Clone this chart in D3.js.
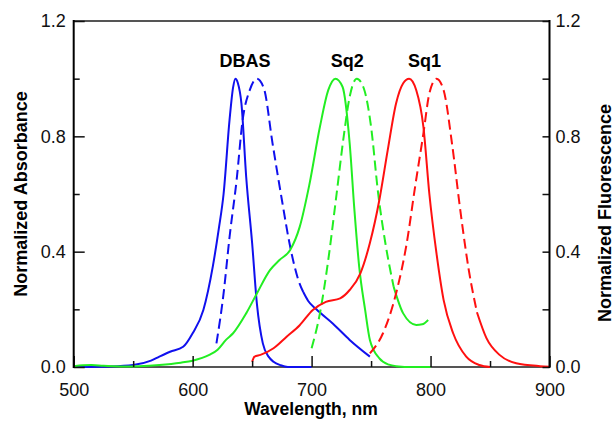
<!DOCTYPE html>
<html lang="en">
<head>
<meta charset="utf-8">
<title>Spectra</title>
<script src="https://d3js.org/d3.v7.min.js"></script>
<style>
  body { margin: 0; background: #fff; }
  text { font-family: "Liberation Sans", Arial, sans-serif; }
</style>
</head>
<body>
<script>
// wavelength (nm), normalized value
var dbasAbs = [[500,0],[530,0.002],[550,0.007],[565,0.022],[572,0.036],[581,0.053],[592,0.07],[600,0.117],[609,0.198],[617,0.35],
  [622,0.48],[626,0.6],[631,0.856],[634,0.97],[636,1.0],[638,0.985],[641,0.914],[645,0.66],[650,0.43],[654,0.22],[659,0.082],[664,0.035],[668,0.018],[674,0.006],[680,0.0],[700,0]];
var dbasFl = [[620,0.082],[626,0.255],[631,0.45],[637,0.65],[642,0.856],[648,0.96],[654,1.0],[660,0.965],[667,0.78],[675,0.58],
  [682,0.417],[689,0.30],[693,0.26],[697,0.23],[704,0.20],[718,0.15],[732,0.094],[749,0.036]];
var sq2Abs = [[500,0.003],[508,0.006],[515,0.007],[525,0.004],[540,0.002],[555,0.003],[572,0.007],[590,0.015],[600,0.022],[614,0.042],[621,0.06],
  [628,0.094],[634,0.117],[645,0.186],[654,0.255],[665,0.336],[673,0.371],[682,0.406],[690,0.486],[698,0.63],[707,0.833],[714,0.96],
  [720,1.0],[726,0.972],[732,0.776],[736,0.544],[740,0.348],[745,0.198],[749,0.094],[757,0.03],[765,0.008],[771,0.003],[785,0],[800,0]];
var sq2Fl = [[700,0.065],[707,0.186],[714,0.371],[721,0.6],[727,0.8],[732,0.937],[738,1.0],[744,0.965],[750,0.833],[756,0.6],
  [762,0.43],[769,0.278],[777,0.186],[788,0.146],[793,0.148],[798,0.163]];
var sq1Abs = [[650,0.018],[652,0.036],[657,0.042],[668,0.065],[679,0.105],[690,0.145],[701,0.198],[712,0.226],[724,0.238],[732,0.267],
  [741,0.325],[749,0.43],[757,0.58],[764,0.752],[771,0.914],[777,0.984],[782,1.0],[788,0.96],[794,0.833],[799,0.6],[805,0.394],
  [811,0.232],[819,0.117],[830,0.036],[841,0.007],[850,0]];
var sq1Fl = [[749,0.047],[760,0.117],[771,0.255],[780,0.43],[787,0.625],[794,0.81],[799,0.949],[805,1.0],[811,0.96],[818,0.776],
  [825,0.544],[832,0.34],[839,0.19],[847,0.10],[858,0.042],[872,0.013],[892,0.003],[900,0.001]];

// fluorescence curves are dashed up to dashTo, solid after it
var series = [
  {data: dbasAbs, color: "#1010ee", dashTo: null},
  {data: dbasFl, color: "#1010ee", dashTo: 693},
  {data: sq2Abs, color: "#22ee22", dashTo: null},
  {data: sq2Fl, color: "#22ee22", dashTo: 769},
  {data: sq1Abs, color: "#ff1010", dashTo: null},
  {data: sq1Fl, color: "#ff1010", dashTo: 839}
];
var labels = [{text: "DBAS", x: 644, y: 1.04}, {text: "Sq2", x: 730, y: 1.04}, {text: "Sq1", x: 795, y: 1.04}];
var xTicks = [500, 600, 700, 800, 900];
var yTicks = [0, 0.4, 0.8, 1.2];

var w = 615, h = 421;
var svg = d3.select("body").append("svg").attr("width", w).attr("height", h);

var x = d3.scaleLinear().domain([500, 900]).range([73.7, 549.5]);
var y = d3.scaleLinear().domain([0, 1.2]).range([367, 21]);

var line = d3.line()
  .x(function(d){ return x(d[0]); })
  .y(function(d){ return y(d[1]); })
  .curve(d3.curveMonotoneX);

// frame top/bottom, gray
svg.append("line").attr("x1", x(500)).attr("x2", x(900)).attr("y1", y(1.2)).attr("y2", y(1.2))
  .attr("stroke", "#555").attr("stroke-width", 2);
svg.append("line").attr("x1", x(500)).attr("x2", x(900)).attr("y1", y(0)).attr("y2", y(0))
  .attr("stroke", "#555").attr("stroke-width", 2);

series.forEach(function(s){
  if (s.dashTo == null) {
    svg.append("path").attr("d", line(s.data))
      .attr("fill", "none").attr("stroke", s.color).attr("stroke-width", 2);
  } else {
    var a = s.data.filter(function(d){ return d[0] <= s.dashTo; });
    var b = s.data.filter(function(d){ return d[0] >= s.dashTo; });
    svg.append("path").attr("d", line(a))
      .attr("fill", "none").attr("stroke", s.color).attr("stroke-width", 2)
      .attr("stroke-dasharray", "10,5");
    svg.append("path").attr("d", line(b))
      .attr("fill", "none").attr("stroke", s.color).attr("stroke-width", 2);
  }
});

var bottom = svg.append("g").attr("transform", "translate(0," + y(0) + ")");
bottom.append("g").call(d3.axisBottom(x).tickValues(d3.range(550, 900, 100)).tickSize(-6).tickFormat(""));
bottom.append("g").call(d3.axisBottom(x).tickValues(xTicks).tickSize(-11).tickPadding(16));

var left = svg.append("g").attr("transform", "translate(" + x(500) + ",0)");
left.append("g").call(d3.axisRight(y).tickValues([0.2, 0.6, 1.0]).tickSize(6).tickFormat(""));
left.append("g").call(d3.axisRight(y).tickValues(yTicks).tickSize(11).tickFormat(""));
left.append("g").call(d3.axisLeft(y).tickValues(yTicks).tickSize(0).tickPadding(8).tickFormat(d3.format(".1f")));

var right = svg.append("g").attr("transform", "translate(" + x(900) + ",0)");
right.append("g").call(d3.axisLeft(y).tickValues(d3.range(0, 1.21, 0.2)).tickSize(7).tickFormat(""));
right.append("g").call(d3.axisRight(y).tickValues(yTicks).tickSize(0).tickPadding(6).tickFormat(d3.format(".1f")));

svg.selectAll(".domain").remove();
svg.append("line").attr("x1", x(500)).attr("x2", x(500)).attr("y1", y(1.2) - 1).attr("y2", y(0) + 1)
  .attr("stroke", "#000").attr("stroke-width", 2);
svg.append("line").attr("x1", x(900)).attr("x2", x(900)).attr("y1", y(1.2) - 1).attr("y2", y(0) + 1)
  .attr("stroke", "#000").attr("stroke-width", 2);

svg.selectAll(".tick line").attr("stroke", "#111").attr("stroke-width", 1.5);
svg.selectAll(".tick text").attr("font-size", 18).attr("fill", "#111")
  .style("font-family", "'Liberation Sans', Arial, sans-serif");

svg.selectAll("text.lab").data(labels).enter().append("text")
  .attr("class", "lab")
  .attr("x", function(d){ return x(d.x); })
  .attr("y", function(d){ return y(d.y); })
  .attr("text-anchor", "middle")
  .attr("font-size", 18).attr("font-weight", "bold")
  .text(function(d){ return d.text; });

svg.append("text").attr("x", 311).attr("y", 415)
  .attr("text-anchor", "middle").attr("font-size", 17.5).attr("font-weight", "bold")
  .text("Wavelength, nm");
svg.append("text").attr("transform", "translate(27,194) rotate(-90)")
  .attr("text-anchor", "middle").attr("font-size", 18).attr("font-weight", "bold")
  .text("Normalized Absorbance");
svg.append("text").attr("transform", "translate(611,213) rotate(-90)")
  .attr("text-anchor", "middle").attr("font-size", 18).attr("font-weight", "bold")
  .text("Normalized Fluorescence");
</script>
</body>
</html>
